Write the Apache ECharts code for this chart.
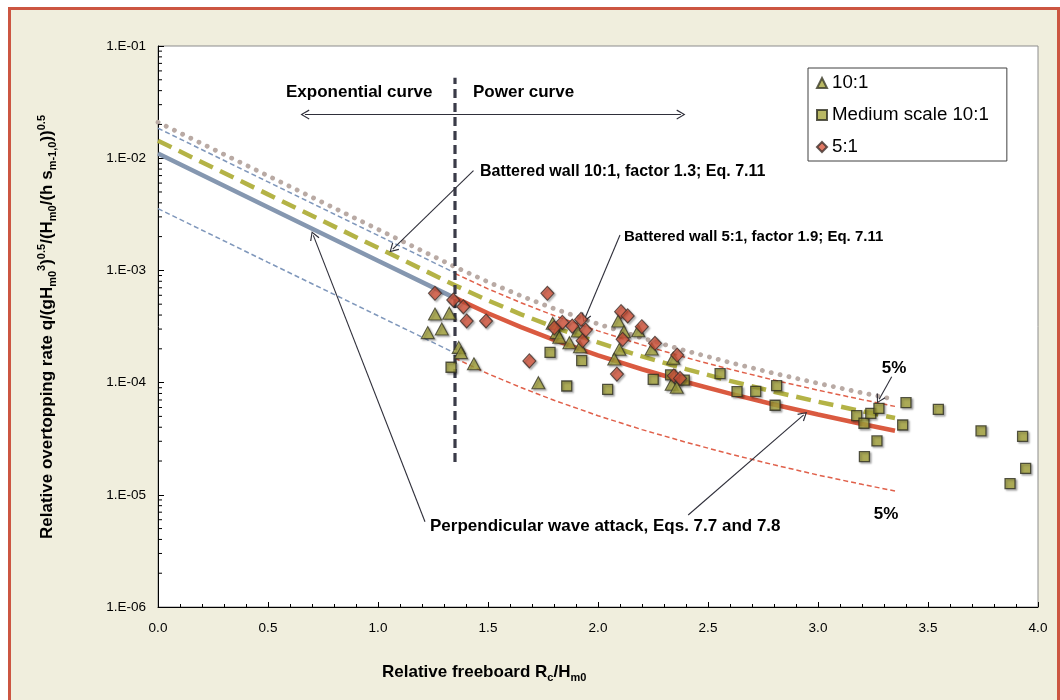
<!DOCTYPE html>
<html><head><meta charset="utf-8">
<script src="https://cdn.jsdelivr.net/npm/echarts@6/dist/echarts.min.js"></script>
<style>html,body{margin:0;padding:0;background:#fff}#c{width:1060px;height:700px}</style>
</head><body><div id="c"></div>
<script>
// ---------- data ----------
const xTickLabels = ['0.0','0.5','1.0','1.5','2.0','2.5','3.0','3.5','4.0'];
const yTickLabels = ['1.E-06','1.E-05','1.E-04','1.E-03','1.E-02','1.E-01'];

// exponential part (perpendicular, Eq. 7.7)
const expX      = [0, 0.5, 1.0, 1.35];
const perpExp   = [0.0110, 0.00366, 0.00122, 0.000566];
const perpExpUp = [0.0185, 0.00615, 0.00205, 0.00095];
const perpExpLo = [0.00355, 0.00118, 0.000394, 0.000183];

// power part (perpendicular, Eq. 7.8)
const powX      = [1.35, 1.5, 1.65, 1.8, 2.0, 2.2, 2.4, 2.6, 2.8, 3.0, 3.2, 3.35];
const perpPow   = [5.69e-4, 4.15e-4, 3.12e-4, 2.40e-4, 1.75e-4, 1.315e-4, 1.013e-4, 7.97e-5, 6.38e-5, 5.19e-5, 4.27e-5, 3.72e-5];
const perpPowUp = [9.39e-4, 6.85e-4, 5.15e-4, 3.96e-4, 2.89e-4, 2.17e-4, 1.67e-4, 1.315e-4, 1.053e-4, 8.56e-5, 7.05e-5, 6.14e-5];
const perpPowLo = [1.65e-4, 1.20e-4, 9.04e-5, 6.96e-5, 5.07e-5, 3.81e-5, 2.94e-5, 2.31e-5, 1.85e-5, 1.50e-5, 1.24e-5, 1.08e-5];

// battered walls (Eq. 7.11)
const battX   = [0, 0.5, 1.0, 1.35, 1.5, 1.65, 1.8, 2.0, 2.2, 2.4, 2.6, 2.8, 3.0, 3.2, 3.35];
const batt10  = [0.0143, 0.00476, 0.00159, 7.36e-4, 5.40e-4, 4.06e-4, 3.12e-4, 2.28e-4, 1.71e-4, 1.32e-4, 1.036e-4, 8.29e-5, 6.75e-5, 5.55e-5, 4.84e-5];
const batt5   = [0.0209, 0.00696, 0.00232, 1.075e-3, 7.89e-4, 5.93e-4, 4.56e-4, 3.33e-4, 2.50e-4, 1.92e-4, 1.51e-4, 1.21e-4, 9.86e-5, 8.11e-5, 7.07e-5];

// measurements
const tri10X = [1.259, 1.324, 1.226, 1.290, 1.367, 1.377, 1.436, 1.729, 1.794, 1.812, 1.824, 1.870, 1.908, 1.918, 2.092, 2.118, 2.183, 2.097, 2.074, 2.244, 2.342, 2.335, 2.358];
const tri10Y = [4.08e-4, 4.15e-4, 2.79e-4, 3.01e-4, 2.06e-4, 1.85e-4, 1.47e-4, 9.98e-5, 3.38e-4, 2.79e-4, 2.54e-4, 2.27e-4, 2.88e-4, 2.09e-4, 3.54e-4, 2.84e-4, 2.90e-4, 1.98e-4, 1.62e-4, 1.99e-4, 1.65e-4, 9.66e-5, 9.08e-5];

const medX = [1.332, 1.782, 1.926, 1.858, 2.044, 2.251, 2.330, 2.392, 2.555, 2.632, 2.717, 2.812, 2.805, 3.176, 3.209, 3.240, 3.277, 3.400, 3.385, 3.268, 3.211, 3.547, 3.741, 3.930, 3.944, 3.873];
const medY = [1.37e-4, 1.86e-4, 1.57e-4, 9.33e-5, 8.71e-5, 1.07e-4, 1.17e-4, 1.05e-4, 1.20e-4, 8.30e-5, 8.36e-5, 9.38e-5, 6.28e-5, 5.07e-5, 4.34e-5, 5.32e-5, 5.90e-5, 6.62e-5, 4.19e-5, 3.02e-5, 2.19e-5, 5.78e-5, 3.72e-5, 3.32e-5, 1.72e-5, 1.26e-5];

const dia5X = [1.259, 1.342, 1.388, 1.403, 1.491, 1.770, 1.688, 1.838, 1.801, 1.883, 1.923, 1.944, 1.930, 2.105, 2.135, 2.112, 2.199, 2.086, 2.259, 2.360, 2.345, 2.373];
const dia5Y = [6.25e-4, 5.45e-4, 4.74e-4, 3.54e-4, 3.54e-4, 6.25e-4, 1.56e-4, 3.44e-4, 3.08e-4, 3.19e-4, 3.66e-4, 2.94e-4, 2.36e-4, 4.29e-4, 3.93e-4, 2.43e-4, 3.15e-4, 1.19e-4, 2.24e-4, 1.76e-4, 1.15e-4, 1.09e-4];

// annotation geometry in data units (start, arrow end)
const dividerX = 1.35, dividerYs = [1.96e-5, 0.052];
const arrowsDouble = [[[0.668, 0.0245], [2.377, 0.0245]]];
const arrowsSingle = [
  [[1.434, 7.74e-3], [1.067, 1.55e-3]],
  [[2.100, 2.07e-3], [1.941, 3.75e-4]],
  [[1.2136, 5.75e-6], [0.706, 2.05e-3]],
  [[2.410, 6.61e-6], [2.935, 5.15e-5]],
  [[3.335, 1.13e-4], [3.278, 7.1e-5]]
];

// ---------- helpers ----------
const FONT = '"Liberation Sans", Arial, Helvetica, sans-serif';
const zip = (xs, ys) => xs.map((x, i) => [x, ys[i]]);
const yMinorTicks = [];
for (let e = -6; e <= -2; e++) for (let m = 2; m <= 9; m++) yMinorTicks.push([0, m * Math.pow(10, e)]);

const CHEV = 'path://M5,0L10,9.2L8.9,9.8L5,2.3L1.1,9.8L0,9.2Z';

function lineSeries(name, xs, ys, ls, z) {
  return { name, type: 'line', data: zip(xs, ys), showSymbol: false, symbol: 'none', silent: true,
           lineStyle: ls, z: z || 2, clip: false, emphasis: { disabled: true } };
}

const markData = [];
arrowsDouble.forEach(a => markData.push([
  { coord: a[0], symbol: CHEV, symbolSize: [10, 9] },
  { coord: a[1], symbol: CHEV, symbolSize: [10, 9] }]));
arrowsSingle.forEach(a => markData.push([
  { coord: a[0], symbol: 'none' },
  { coord: a[1], symbol: CHEV, symbolSize: [10, 9] }]));

const markerShadow = { shadowColor: 'rgba(0,0,0,0.35)', shadowBlur: 2, shadowOffsetX: 1.5, shadowOffsetY: 1.5 };

const series = [
  lineSeries('up5exp', expX, perpExpUp, { color: '#7f97bb', width: 1.5, type: [5, 3] }),
  lineSeries('lo5exp', expX, perpExpLo, { color: '#7f97bb', width: 1.5, type: [5, 3] }),
  lineSeries('up5pow', powX, perpPowUp, { color: '#e0604a', width: 1.5, type: [5, 3] }),
  lineSeries('lo5pow', powX, perpPowLo, { color: '#e0604a', width: 1.5, type: [5, 3] }),
  lineSeries('batt5', battX, batt5, { color: '#b9aaa4', width: 4.8, type: [0.1, 9], cap: 'round' }),
  lineSeries('perpExp', expX, perpExp, { color: '#8597b0', width: 4.5 }),
  lineSeries('perpPow', powX, perpPow, { color: '#da5a40', width: 4.5 }),
  lineSeries('batt10', battX, batt10, { color: '#b4b346', width: 4.5, type: [15, 8] }),
  lineSeries('divider', [dividerX, dividerX], dividerYs, { color: '#3a3b48', width: 3.2, type: [9, 5] }),
  {
    name: 'annot', type: 'line', data: [], silent: true, symbol: 'none',
    markLine: { silent: true, animation: false, symbol: ['none', 'none'], label: { show: false },
      emphasis: { disabled: true },
      lineStyle: { color: '#2f2f3a', width: 1.1, type: 'solid' }, data: markData }
  },
  { name: '10:1', type: 'scatter', symbol: 'triangle', symbolSize: [13, 12], data: zip(tri10X, tri10Y), z: 5,
    itemStyle: Object.assign({ color: '#a8a63d', borderColor: '#3a3a28', borderWidth: 1.1 }, markerShadow) },
  { name: 'Medium scale 10:1', type: 'scatter', symbol: 'rect', symbolSize: 10, data: zip(medX, medY), z: 5,
    itemStyle: Object.assign({ color: '#a8a63d', borderColor: '#2e2e20', borderWidth: 1.3 }, markerShadow) },
  { name: '5:1', type: 'scatter', symbol: 'diamond', symbolSize: [13, 14], data: zip(dia5X, dia5Y), z: 6,
    itemStyle: Object.assign({ color: '#d8573f', borderColor: '#3e302a', borderWidth: 1.1 }, markerShadow) },
  { name: 'yminor', type: 'custom', data: yMinorTicks, silent: true, clip: false, z: 7,
    renderItem: (params, api) => {
      const p = api.coord([api.value(0), api.value(1)]);
      return { type: 'line', shape: { x1: p[0], y1: p[1], x2: p[0] + 4, y2: p[1] },
               style: { stroke: '#000', lineWidth: 1 } };
    } }
];

const richT = {
  t:  { fontFamily: FONT, fontSize: 17, fontWeight: 'bold', lineHeight: 22, color: '#000' },
  sb: { fontFamily: FONT, fontSize: 11, fontWeight: 'bold', lineHeight: 10, verticalAlign: 'bottom', color: '#000' },
  sp: { fontFamily: FONT, fontSize: 11, fontWeight: 'bold', lineHeight: 12, verticalAlign: 'top', color: '#000' }
};

function label(text, x, y, size, align) {
  return { type: 'text', x, y, silent: true, z: 50,
    style: { text, font: 'bold ' + size + 'px ' + FONT, fill: '#000', textAlign: align || 'left', textVerticalAlign: 'middle' } };
}

const option = {
  backgroundColor: '#f0eedd',
  animation: false,
  textStyle: { fontFamily: FONT },
  grid: { left: 158, top: 46, width: 880, height: 561, show: true, backgroundColor: '#ffffff',
          borderColor: '#8c8c8c', borderWidth: 1 },
  legend: {
    data: [{ name: '10:1', icon: 'triangle' }, { name: 'Medium scale 10:1', icon: 'rect' }, { name: '5:1', icon: 'diamond' }],
    orient: 'vertical', left: 808, top: 68, padding: [4, 18, 3, 8], itemGap: 10,
    itemWidth: 10, itemHeight: 10, backgroundColor: '#fff', borderColor: '#404040', borderWidth: 1,
    selectedMode: false, textStyle: { fontSize: 18.7, color: '#000', lineHeight: 22, fontFamily: FONT }
  },
  xAxis: {
    type: 'value', min: 0, max: 4, interval: 0.5,
    axisLine: { show: true, onZero: false, lineStyle: { color: '#000', width: 1 } },
    axisTick: { show: true, inside: true, length: 5, lineStyle: { color: '#000' } },
    minorTick: { show: true, splitNumber: 5, length: 3, lineStyle: { color: '#000' } },
    splitLine: { show: false },
    axisLabel: { color: '#000', fontSize: 13.5, margin: 14, fontFamily: FONT,
                 formatter: v => xTickLabels[Math.round(v / 0.5)] }
  },
  yAxis: {
    type: 'log', logBase: 10, min: 1e-6, max: 1e-1, splitNumber: 5,
    axisLine: { show: true, onZero: false, lineStyle: { color: '#000', width: 1 } },
    axisTick: { show: true, inside: true, length: 6, lineStyle: { color: '#000' } },
    splitLine: { show: false },
    axisLabel: { color: '#000', fontSize: 13.5, margin: 12, fontFamily: FONT,
                 formatter: v => yTickLabels[Math.round(Math.log10(v)) + 6] }
  },
  graphic: [
    { type: 'rect', silent: true, z: 100, shape: { x: 0, y: 0, width: 1060, height: 7 }, style: { fill: '#fff' } },
    { type: 'rect', silent: true, z: 100, shape: { x: 0, y: 0, width: 8, height: 700 }, style: { fill: '#fff' } },
    { type: 'rect', silent: true, z: 101, shape: { x: 9.5, y: 8.5, width: 1049, height: 720 },
      style: { fill: 'none', stroke: '#cc5641', lineWidth: 3 } },
    label('Exponential curve', 286, 92, 17),
    label('Power curve', 473, 92, 17),
    label('Battered wall 10:1, factor 1.3; Eq. 7.11', 480, 172, 16),
    label('Battered wall 5:1, factor 1.9; Eq. 7.11', 624, 237, 15),
    label('Perpendicular wave attack, Eqs. 7.7 and 7.8', 430, 526, 17),
    label('5%', 894, 368, 17, 'center'),
    label('5%', 886, 514, 17, 'center'),
    { type: 'text', x: 47, y: 327, rotation: Math.PI / 2, silent: true, z: 50,
      style: { text: '{t|Relative overtopping rate q/(gH}{sb|m0}{sp|3}{t|)}{sp|0.5}{t|/(H}{sb|m0}{t|/(h s}{sb|m-1,0}{t|))}{sp|0.5}',
               rich: richT, textAlign: 'center', textVerticalAlign: 'middle' } },
    { type: 'text', x: 382, y: 672, silent: true, z: 50,
      style: { text: '{t|Relative freeboard R}{sb|c}{t|/H}{sb|m0}',
               rich: richT, textAlign: 'left', textVerticalAlign: 'middle' } }
  ],
  series
};

const chart = echarts.init(document.getElementById('c'), null, { renderer: 'canvas' });
chart.setOption(option);
</script></body></html>
